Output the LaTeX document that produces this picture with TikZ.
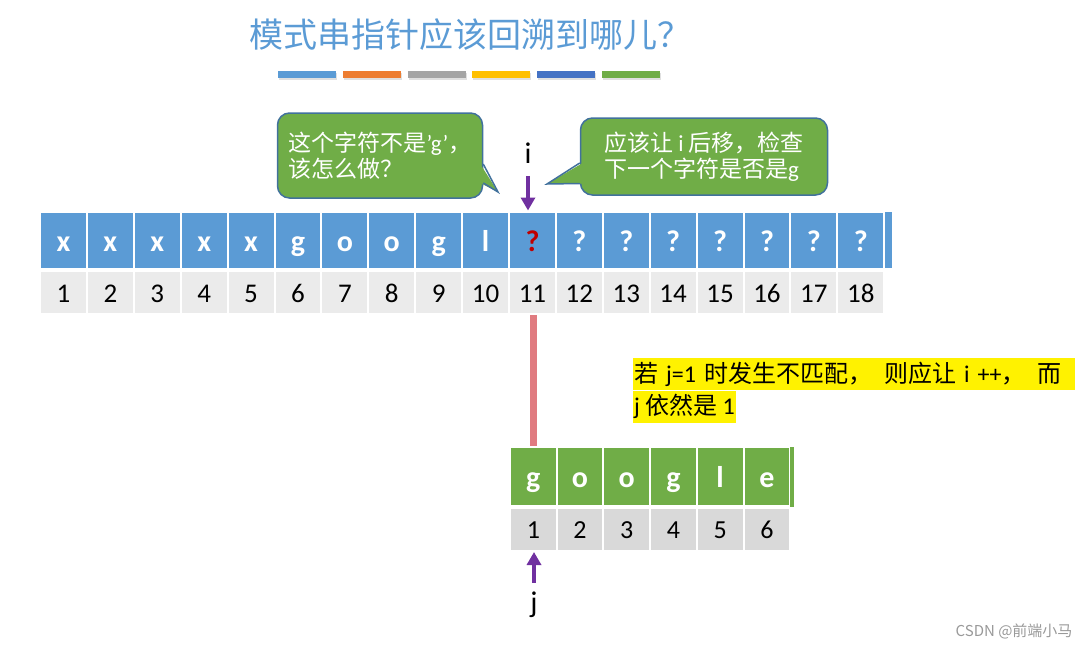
\documentclass[tikz,border=0pt]{standalone}
\usepackage{fontspec}
\setmainfont{Carlito}
\newfontfamily\cjk{Noto Sans CJK SC}
\usetikzlibrary{arrows.meta,calc,positioning}
\definecolor{Sky}{HTML}{5B9BD5}
\definecolor{Orange}{HTML}{ED7D31}
\definecolor{Silver}{HTML}{A5A5A5}
\definecolor{Amber}{HTML}{FFC000}
\definecolor{Navy}{HTML}{4472C4}
\definecolor{Leaf}{HTML}{70AD47}
\definecolor{Plum}{HTML}{7030A0}
\definecolor{Rose}{HTML}{E07B80}
\definecolor{Edge}{HTML}{41719C}
\definecolor{Cell}{HTML}{EBEBEB}
\definecolor{CellDark}{HTML}{D9D9D9}
\definecolor{DarkRed}{HTML}{C00000}
\newcommand\lat[1]{{\normalfont #1}}

\begin{document}
\begin{tikzpicture}[x=1pt,y=-1pt,
    chr/.style={fill=Sky,draw=white,line width=2pt,minimum width=46.9pt,
      minimum height=57pt,inner sep=0pt,text=white,text height=22pt,text depth=0pt,
      font=\fontsize{30}{34}\selectfont\bfseries},
    idx/.style={fill=Cell,draw=white,line width=2pt,minimum width=46.9pt,
      minimum height=43pt,inner sep=0pt,text height=19pt,text depth=0pt,
      font=\fontsize{27}{30}\selectfont},
    bubble/.style={fill=Leaf,draw=Edge,line width=1.5pt,rounded corners=12pt,
      text=white,align=left,inner sep=0pt,font=\cjk\fontsize{23}{26}\selectfont},
    beak/.style={fill=Leaf},
    beakline/.style={draw=Edge,line width=1.5pt,line join=miter},
    ptr/.style={-{Triangle[length=13pt,width=14pt]},line width=4pt,draw=Plum},
    memo/.style={fill=yellow,inner sep=1pt,minimum height=32pt,align=left,
      font=\cjk\fontsize{24}{28}\selectfont}]
    \useasboundingbox (0,0) rectangle (1082,648);
    % title and colour strip
    \node[font=\cjk\fontsize{34}{38}\selectfont,text=Sky] (title) at (470,35) {模式串指针应该回溯到哪儿？};
    \foreach \col [count=\k] in {Sky,Orange,Silver,Amber,Navy,Leaf} {
      \fill[black!12] ({279+64.8*(\k-1)},73) rectangle +(58,7);
      \fill[\col] ({278+64.8*(\k-1)},71) rectangle +(58,7);
    }
    % main string
    \foreach \c [count=\k] in {x,x,x,x,x,g,o,o,g,l}
      \node[chr] (s\k) at ({40+46.9*(\k-0.5)},240) {\c};
    \node[chr,text=DarkRed] (s11) at ({40+46.9*10.5},240) {?};
    \foreach \k in {12,...,18}
      \node[chr] (s\k) at ({40+46.9*(\k-0.5)},240) {?};
    \foreach \k in {1,...,18}
      \node[idx] (si\k) at ({40+46.9*(\k-0.5)},292.5) {\k};
    \fill[Sky] (885,212) rectangle (892,268);
    % pattern
    \foreach \c [count=\k] in {g,o,o,g,l,e}
      \node[chr,fill=Leaf,minimum width=46.7pt,minimum height=59pt] (p\k) at ({510+46.7*(\k-0.5)},476.5) {\c};
    \foreach \k in {1,...,6}
      \node[idx,fill=CellDark,minimum width=46.7pt,text height=17pt,
        font=\fontsize{26}{28}\selectfont] (pi\k) at ({510+46.7*(\k-0.5)},529.5) {\k};
    \fill[Leaf] (790,447) rectangle (794,507);
    \draw[line width=7pt,Rose] (si11.south -| p1) -- (p1.north);
    % pointers
    \node[font=\fontsize{30}{32}\selectfont] (i) at (528,153) {i};
    \draw[ptr] ([yshift=-9pt]i.south) -- (i |- s11.north);
    \node[font=\fontsize{30}{32}\selectfont] (j) at (534,605) {j};
    \draw[ptr] ([yshift=6pt]j.north) -- (j |- pi1.south);
    % callouts
    \node[bubble,minimum width=205pt,minimum height=85pt] (ask) at (380,155.5)
      {这个字符不是\lat{'g'}，\\该怎么做？};
    \coordinate (askTip) at (498,192);
    \fill[beak] ($(ask.east)+(-3,8.5)$) -- (askTip) -- ($(ask.east)+(-3,27.5)$) -- cycle;
    \draw[beakline] ($(ask.east)+(0,8.5)$) -- (askTip) -- ($(ask.east)+(0,27.5)$);
    \node[bubble,minimum width=247pt,minimum height=77pt] (answer) at (704,156.5)
      {应该让 \lat{i} 后移，检查\\下一个字符是否是\lat{g}};
    \coordinate (answerTip) at (547,184);
    \fill[beak] ($(answer.west)+(3,6.5)$) -- (answerTip) -- ($(answer.west)+(3,27)$) -- cycle;
    \draw[beakline] ($(answer.west)+(0,6.5)$) -- (answerTip) -- ($(answer.west)+(0,27)$);
    % rule
    \node[memo,anchor=north west,text width=440pt] (rule) at (633,358)
      {若 \lat{j=1} 时发生不匹配，\hspace{12pt}则应让 \lat{i ++}，\hspace{12pt}而};
    \node[memo,anchor=north west] (rule2) at (rule.south west) {\lat{j} 依然是 \lat{1}};
    \node[font=\cjk\fontsize{15}{18}\selectfont,text=black!40,anchor=east] (mark) at (1076,631) {CSDN @前端小马};
\end{tikzpicture}
\end{document}
